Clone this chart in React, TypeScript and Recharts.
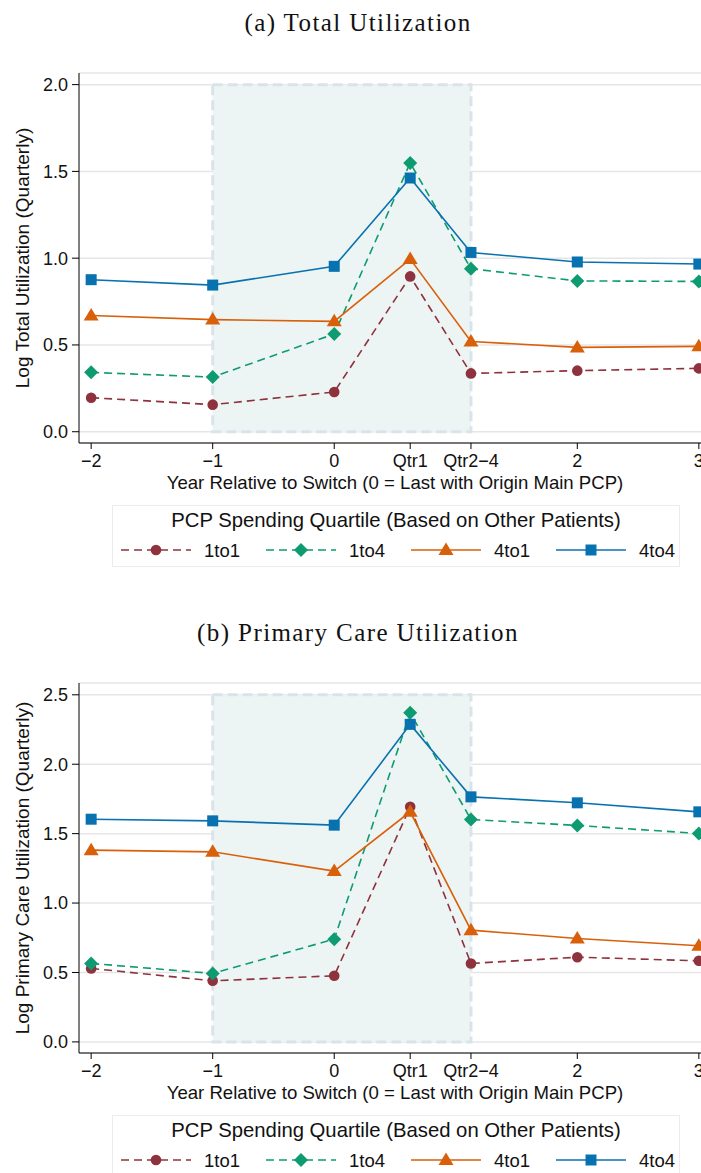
import React from 'react';
import {
  LineChart,
  Line,
  XAxis,
  YAxis,
  CartesianGrid,
  ReferenceArea,
} from 'recharts';

// event-time positions on the x axis and their tick labels
const periodX = [-2, -1, 0, 0.625, 1.125, 2, 3];
const periodLabels = ['\u22122', '\u22121', '0', 'Qtr1', 'Qtr2\u22124', '2', '3'];

const groupNames = ['1to1', '1to4', '4to1', '4to4'];

// (a) log total utilization
const total1to1 = [0.196, 0.156, 0.229, 0.895, 0.336, 0.352, 0.365];
const total1to4 = [0.342, 0.315, 0.563, 1.549, 0.939, 0.869, 0.866];
const total4to1 = [0.67, 0.646, 0.636, 0.995, 0.52, 0.486, 0.492];
const total4to4 = [0.876, 0.845, 0.953, 1.462, 1.033, 0.978, 0.966];

// (b) log primary care utilization
const primary1to1 = [0.529, 0.44, 0.476, 1.693, 0.565, 0.61, 0.584];
const primary1to4 = [0.565, 0.493, 0.74, 2.37, 1.602, 1.559, 1.501];
const primary4to1 = [1.381, 1.369, 1.23, 1.657, 0.805, 0.745, 0.692];
const primary4to4 = [1.604, 1.592, 1.561, 2.287, 1.765, 1.722, 1.657];

const totalTicks = [0, 0.5, 1, 1.5, 2];
const primaryTicks = [0, 0.5, 1, 1.5, 2, 2.5];

const SANS = '"Liberation Sans", Arial, Helvetica, sans-serif';

type Marker = 'circle' | 'diamond' | 'triangle' | 'square';

const styles: Record<string, { color: string; dash?: string; marker: Marker }> = {
  '1to1': { color: '#8e323d', dash: '8 5', marker: 'circle' },
  '1to4': { color: '#0f9b72', dash: '8 5', marker: 'diamond' },
  '4to1': { color: '#d9600a', marker: 'triangle' },
  '4to4': { color: '#0872b0', marker: 'square' },
};

const drawMarker = (kind: Marker, cx: number, cy: number, color: string, key?: React.Key) => {
  switch (kind) {
    case 'circle':
      return <circle key={key} cx={cx} cy={cy} r={5.3} fill={color} />;
    case 'diamond':
      return (
        <path key={key} d={`M${cx},${cy - 7} L${cx + 7},${cy} L${cx},${cy + 7} L${cx - 7},${cy} Z`} fill={color} />
      );
    case 'triangle':
      return (
        <path key={key} d={`M${cx},${cy - 7.5} L${cx + 7.5},${cy + 5} L${cx - 7.5},${cy + 5} Z`} fill={color} />
      );
    default:
      return <rect key={key} x={cx - 5.5} y={cy - 5.5} width={11} height={11} fill={color} />;
  }
};

const buildRows = (s11: number[], s14: number[], s41: number[], s44: number[]) =>
  periodX.map((x, i) => ({
    x,
    '1to1': s11[i],
    '1to4': s14[i],
    '4to1': s41[i],
    '4to4': s44[i],
  }));

const totalRows = buildRows(total1to1, total1to4, total4to1, total4to4);
const primaryRows = buildRows(primary1to1, primary1to4, primary4to1, primary4to4);

const tickLabel = (v: number) => {
  const i = periodX.indexOf(v);
  return i >= 0 ? periodLabels[i] : String(v);
};

const LegendBox: React.FC = () => (
  <div
    style={{
      position: 'absolute',
      left: 112,
      top: 505,
      width: 566,
      height: 60,
      border: '1px solid #ececec',
      background: '#fff',
      fontFamily: SANS,
      color: '#111',
    }}
  >
    <div style={{ position: 'absolute', top: 3, width: '100%', textAlign: 'center', fontSize: 20.3 }}>
      PCP Spending Quartile (Based on Other Patients)
    </div>
    <svg width={566} height={60} style={{ position: 'absolute', left: 0, top: 0 }}>
      {groupNames.map((g, i) => {
        const st = styles[g];
        const x0 = 8 + i * 145;
        return (
          <g key={g}>
            <line x1={x0} x2={x0 + 70} y1={44} y2={44} stroke={st.color} strokeWidth={1.5} strokeDasharray={st.dash} />
            {drawMarker(st.marker, x0 + 35, 44, st.color)}
            <text x={x0 + 83} y={50.5} fontFamily={SANS} fontSize={18.5} fill="#111">
              {g}
            </text>
          </g>
        );
      })}
    </svg>
  </div>
);

interface PanelProps {
  top: number;
  title: string;
  yLabel: string;
  rows: Array<Record<string, number>>;
  ticks: number[];
  domain: [number, number];
}

const Panel: React.FC<PanelProps> = ({ top, title, yLabel, rows, ticks, domain }) => {
  const shadeTop = ticks[ticks.length - 1];
  return (
    <div style={{ position: 'absolute', left: 0, top, width: 701, height: 610 }}>
      <div
        style={{
          position: 'absolute',
          top: 9,
          left: 0,
          width: 716,
          textAlign: 'center',
          fontFamily: '"Liberation Serif", "DejaVu Serif", serif',
          fontSize: 25,
          letterSpacing: 1.4,
          color: '#111',
        }}
      >
        {title}
      </div>
      <div style={{ position: 'absolute', left: 0, top: 0 }}>
        <LineChart width={720} height={500} data={rows} margin={{ top: 73, right: 9, bottom: 11, left: 0 }}>
          <CartesianGrid vertical={false} stroke="#e6e6e6" strokeWidth={1.5} />
          <ReferenceArea
            x1={-1}
            x2={1.125}
            y1={0}
            y2={shadeTop}
            fill="#edf4f4"
            fillOpacity={1}
            stroke="#d9e4ea"
            strokeWidth={3}
            strokeDasharray="10 5"
          />
          <XAxis
            dataKey="x"
            type="number"
            domain={[-2.1, 3.1]}
            ticks={periodX}
            tickFormatter={tickLabel}
            interval={0}
            height={46}
            axisLine={{ stroke: '#000' }}
            tickLine={{ stroke: '#000' }}
            tickSize={6}
            tickMargin={5}
            tick={{ fill: '#111', fontSize: 18, fontFamily: SANS }}
            label={{
              value: 'Year Relative to Switch (0 = Last with Origin Main PCP)',
              position: 'insideBottom',
              offset: 0,
              style: { fill: '#111', fontSize: 18.6, fontFamily: SANS },
            }}
          />
          <YAxis
            type="number"
            domain={domain}
            ticks={ticks}
            interval={0}
            width={79}
            allowDataOverflow
            axisLine={{ stroke: '#000' }}
            tickLine={{ stroke: '#000' }}
            tickSize={7}
            tickMargin={4}
            tickFormatter={(v: number) => v.toFixed(1)}
            tick={{ fill: '#111', fontSize: 18, fontFamily: SANS }}
            label={{
              value: yLabel,
              angle: -90,
              position: 'insideLeft',
              offset: 22,
              style: { fill: '#111', fontSize: 19, fontFamily: SANS, textAnchor: 'middle' },
            }}
          />
          {groupNames.map((g) => {
            const st = styles[g];
            return (
              <Line
                key={g}
                dataKey={g}
                type="linear"
                stroke={st.color}
                strokeWidth={1.6}
                strokeDasharray={st.dash}
                isAnimationActive={false}
                activeDot={false}
                dot={(p: any) => drawMarker(st.marker, p.cx, p.cy, st.color, `${g}-${p.index}`)}
              />
            );
          })}
        </LineChart>
      </div>
      <LegendBox />
    </div>
  );
};

export default function App() {
  return (
    <div
      style={{
        position: 'absolute',
        left: 0,
        top: 0,
        width: 701,
        height: 1173,
        overflow: 'hidden',
        background: '#fff',
      }}
    >
      <Panel
        top={0}
        title="(a) Total Utilization"
        yLabel="Log Total Utilization (Quarterly)"
        rows={totalRows}
        ticks={totalTicks}
        domain={[-0.065, 2.067]}
      />
      <Panel
        top={610}
        title="(b) Primary Care Utilization"
        yLabel="Log Primary Care Utilization (Quarterly)"
        rows={primaryRows}
        ticks={primaryTicks}
        domain={[-0.08, 2.585]}
      />
    </div>
  );
}
